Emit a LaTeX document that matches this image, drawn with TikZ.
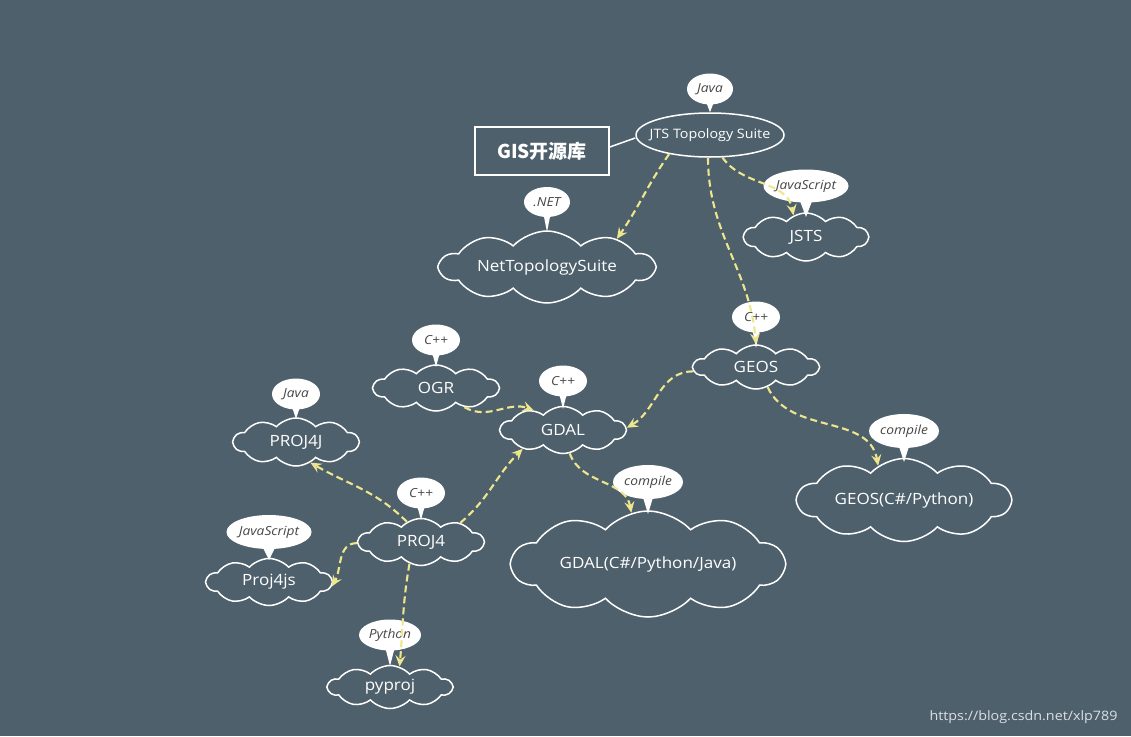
\documentclass[tikz,border=0pt]{standalone}
\usepackage{fontspec}
\setmainfont{Open Sans}[FakeStretch=1.1]
\newfontfamily\cjk{Noto Sans CJK SC}
\usetikzlibrary{shapes.symbols,shapes.callouts,shapes.geometric,arrows.meta}
\definecolor{bg}{RGB}{78,96,108}
\definecolor{arr}{RGB}{238,230,140}
\definecolor{tag}{RGB}{70,70,70}
\tikzset{
  lib/.style={cloud, cloud puffs=10, cloud puff arc=95, cloud ignores aspect, draw=white, line width=1.5pt, text=white, inner sep=0pt, font=\fontsize{15.5}{17}\selectfont},
  tagbox/.style={ellipse callout, fill=white, text=tag, inner sep=0pt, minimum height=31pt, font=\fontsize{12.5}{14}\selectfont\itshape, callout pointer width=8pt},
  dep/.style={draw=arr, line width=2.1pt, dash pattern=on 7pt off 4pt, -{Stealth[length=11pt,width=10pt,inset=4pt]}},
}
\begin{document}
\begin{tikzpicture}[x=1pt,y=-1pt]
\fill[bg] (0,0) rectangle (1131,736);
\useasboundingbox (0,0) rectangle (1131,736);

% title and root
\node[draw=white, line width=1.5pt, minimum width=134pt, minimum height=48pt, text=white, font=\cjk\bfseries\fontsize{19}{21}\selectfont] (title) at (542,151) {GIS开源库};
\node[ellipse, draw=white, line width=1.5pt, minimum width=148pt, minimum height=44pt, inner sep=0pt, text=white, font=\fontsize{13}{15}\selectfont] (jts) at (710,135) {\makebox[0pt]{JTS Topology Suite}};
\draw[white, line width=1.5pt] (title.east |- 0,147) -- (jts.west |- 0,138);

% libraries
\node[lib, minimum width=214pt, minimum height=72pt] (nts) at (547,267) {NetTopologySuite};
\node[lib, minimum width=124pt, minimum height=48pt] (jsts) at (806,237) {JSTS};
\node[lib, minimum width=125pt, minimum height=44pt] (geos) at (756,367) {GEOS};
\node[lib, minimum width=125pt, minimum height=46pt] (ogr) at (436,388) {OGR};
\node[lib, minimum width=125pt, minimum height=47pt] (gdal) at (563,430) {GDAL};
\node[lib, minimum width=125pt, minimum height=48pt] (proj4j) at (296,442) {PROJ4J};
\node[lib, minimum width=125pt, minimum height=47pt] (proj4) at (421,542) {PROJ4};
\node[lib, minimum width=125pt, minimum height=47pt] (proj4js) at (269,582) {Proj4js};
\node[lib, minimum width=124pt, minimum height=43pt] (pyproj) at (390,687) {pyproj};
\node[lib, minimum width=272pt, minimum height=106pt] (gdalx) at (648,564) {GDAL(C\#/Python/Java)};
\node[lib, minimum width=213pt, minimum height=83pt] (geosx) at (904,500) {GEOS(C\#/Python)};

% language tags
\node[tagbox, minimum width=46pt, callout absolute pointer={(jts.north)}] (tjts) at (710,89) {Java};
\node[tagbox, minimum width=46pt, minimum height=30pt, callout absolute pointer={(547,232)}] (tnts) at (547,202) {.NET};
\node[tagbox, minimum width=82pt, minimum height=33pt, callout absolute pointer={(806,217)}] (tjsts) at (806,186) {JavaScript};
\node[tagbox, minimum width=48pt, callout absolute pointer={(756,348)}] (tgeos) at (756,317) {C++};
\node[tagbox, minimum width=48pt, callout absolute pointer={(436,367)}] (togr) at (436,340) {C++};
\node[tagbox, minimum width=48pt, callout absolute pointer={(563,409)}] (tgdal) at (563,381) {C++};
\node[tagbox, minimum width=48pt, callout absolute pointer={(296,419)}] (tproj4j) at (296,394) {Java};
\node[tagbox, minimum width=48pt, callout absolute pointer={(421,520)}] (tproj4) at (421,493) {C++};
\node[tagbox, minimum width=82pt, minimum height=34pt, callout absolute pointer={(269,560)}] (tproj4js) at (269,532) {JavaScript};
\node[tagbox, minimum width=62pt, callout absolute pointer={(390,666)}] (tpyproj) at (390,635) {Python};
\node[tagbox, minimum width=70pt, minimum height=34pt, callout absolute pointer={(648,514)}] (tgdalx) at (648,482) {compile};
\node[tagbox, minimum width=70pt, minimum height=34pt, callout absolute pointer={(904,462)}] (tgeosx) at (904,431) {compile};

% dependencies
\draw[dep] (jts.205) to[out=235,in=55] (nts.22);
\draw[dep] (jts.-61) to[out=-55,in=100] (jsts.120);
\draw[dep] (jts.-95) to[out=-90,in=95] (geos.north);
\draw[dep] (geos.184) to[out=180,in=30] (gdal.2);
\draw[dep] (geos.-60) to[out=-65,in=100] (geosx.127);
\draw[dep] (ogr.-34) to[out=-30,in=160] (gdal.146);
\draw[dep] (gdal.-74) to[out=-70,in=100] (gdalx.108);
\draw[dep] (proj4.26) to[out=40,in=225] (gdal.205);
\draw[dep] (proj4.125) to[out=135,in=-30] (proj4j.-55);
\draw[dep] (proj4.181) to[out=180,in=60] (proj4js.-4);
\draw[dep] (proj4.-118) to[out=-100,in=85] (pyproj.65);

\node[text=white!80!bg, font=\fontsize{13}{15}\selectfont, anchor=east] (mark) at (1121,717) {https://blog.csdn.net/xlp789};
\end{tikzpicture}
\end{document}
